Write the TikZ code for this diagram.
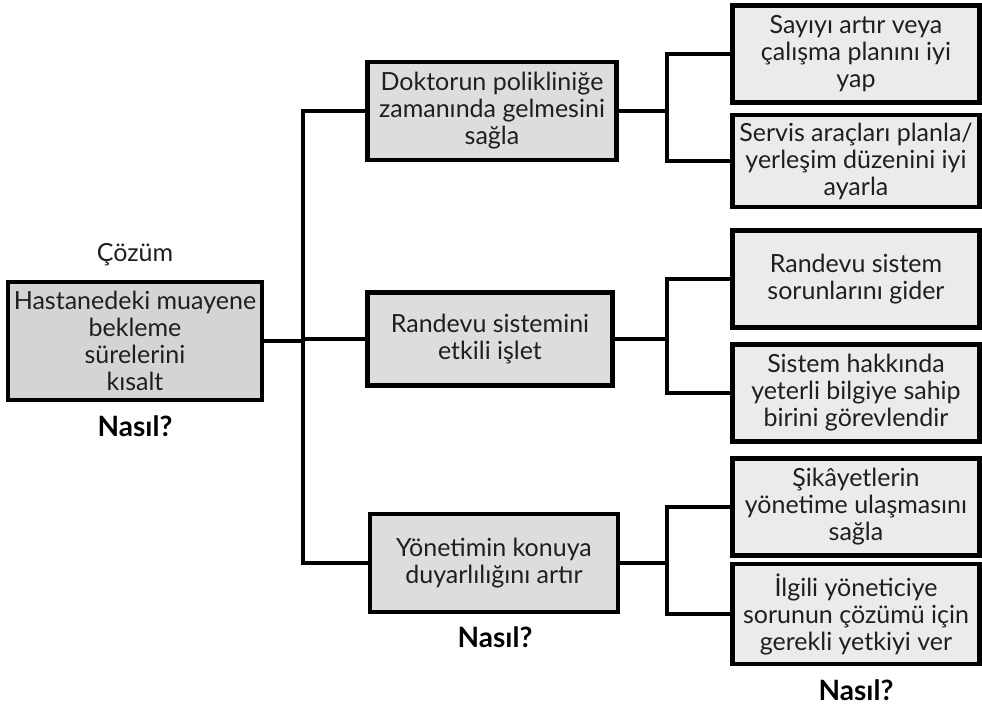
\documentclass[tikz,border=0pt]{standalone}
\usepackage{fontspec}
\setmainfont{Lato}
\definecolor{rootfill}{HTML}{D4D4D4}
\definecolor{midfill}{HTML}{DDDDDD}
\definecolor{leaffill}{HTML}{EBEBEB}
\begin{document}
\begin{tikzpicture}[x=1pt,y=-1pt,
  box/.style={draw=black, line width=4.2pt, align=center, inner sep=0pt,
    font=\fontsize{25}{27}\selectfont, text=black!88},
  rootbox/.style={box, fill=rootfill},
  midbox/.style={box, fill=midfill},
  leafbox/.style={box, fill=leaffill},
  link/.style={line width=3.2pt, line join=miter},
  caption/.style={font=\fontsize{25}{27}\selectfont, text=black!88},
  howlabel/.style={font=\fontsize{28}{30}\selectfont\bfseries}]
\useasboundingbox (0,0) rectangle (982,708);

% root problem
\node[rootbox, minimum width=254pt, minimum height=118pt] (root) at (135,341)
  {Hastanedeki muayene\\bekleme\\sürelerini\\kısalt};
\node[caption] (cozum) at (135,255) {Çözüm};
\node[howlabel] (how0) at (135,426) {Nasıl?};

% second level
\node[midbox, minimum width=249pt, minimum height=98pt] (m1) at (492,111)
  {Doktorun polikliniğe\\zamanında gelmesini\\sağla};
\node[midbox, minimum width=245pt, minimum height=93pt] (m2) at (490,339)
  {Randevu sistemini\\etkili işlet};
\node[midbox, minimum width=248pt, minimum height=98pt] (m3) at (494,563)
  {Yönetimin konuya\\duyarlılığını artır};
\node[howlabel] (how1) at (495,637) {Nasıl?};

% third level
\node[leafbox, minimum width=247pt, minimum height=97pt] (l1) at (856,54)
  {Sayıyı artır veya\\çalışma planını iyi\\yap};
\node[leafbox, minimum width=247pt, minimum height=92pt] (l2) at (856,161)
  {Servis araçları planla/\\yerleşim düzenini iyi\\ayarla};
\node[leafbox, minimum width=247pt, minimum height=97pt] (l3) at (856,279)
  {Randevu sistem\\sorunlarını gider};
\node[leafbox, minimum width=247pt, minimum height=97pt] (l4) at (856,393)
  {Sistem hakkında\\yeterli bilgiye sahip\\birini görevlendir};
\node[leafbox, minimum width=247pt, minimum height=97pt] (l5) at (856,507)
  {Şikâyetlerin\\yönetime ulaşmasını\\sağla};
\node[leafbox, minimum width=247pt, minimum height=100pt] (l6) at (856,614)
  {İlgili yöneticiye\\sorunun çözümü için\\gerekli yetkiyi ver};
\node[howlabel] (how2) at (856,690) {Nasıl?};

% junction points of the tree
\coordinate (trunk) at (303,0);
\coordinate (fork) at (667,0);

% root to second level
\draw[link] (root.east) -- (trunk |- root.east);
\draw[link] (m1.west) -- (trunk |- m1.west) -- (trunk |- m3.west) -- (m3.west);
\draw[link] (m2.west) -- (trunk |- m2.west);

% second level to third level
\foreach \m/\a/\b in {m1/l1/l2, m2/l3/l4, m3/l5/l6} {
  \draw[link] (\m.east) -- (fork |- \m.east);
  \draw[link] (\a.west) -- (fork |- \a.west) -- (fork |- \b.west) -- (\b.west);
}
\end{tikzpicture}
\end{document}
